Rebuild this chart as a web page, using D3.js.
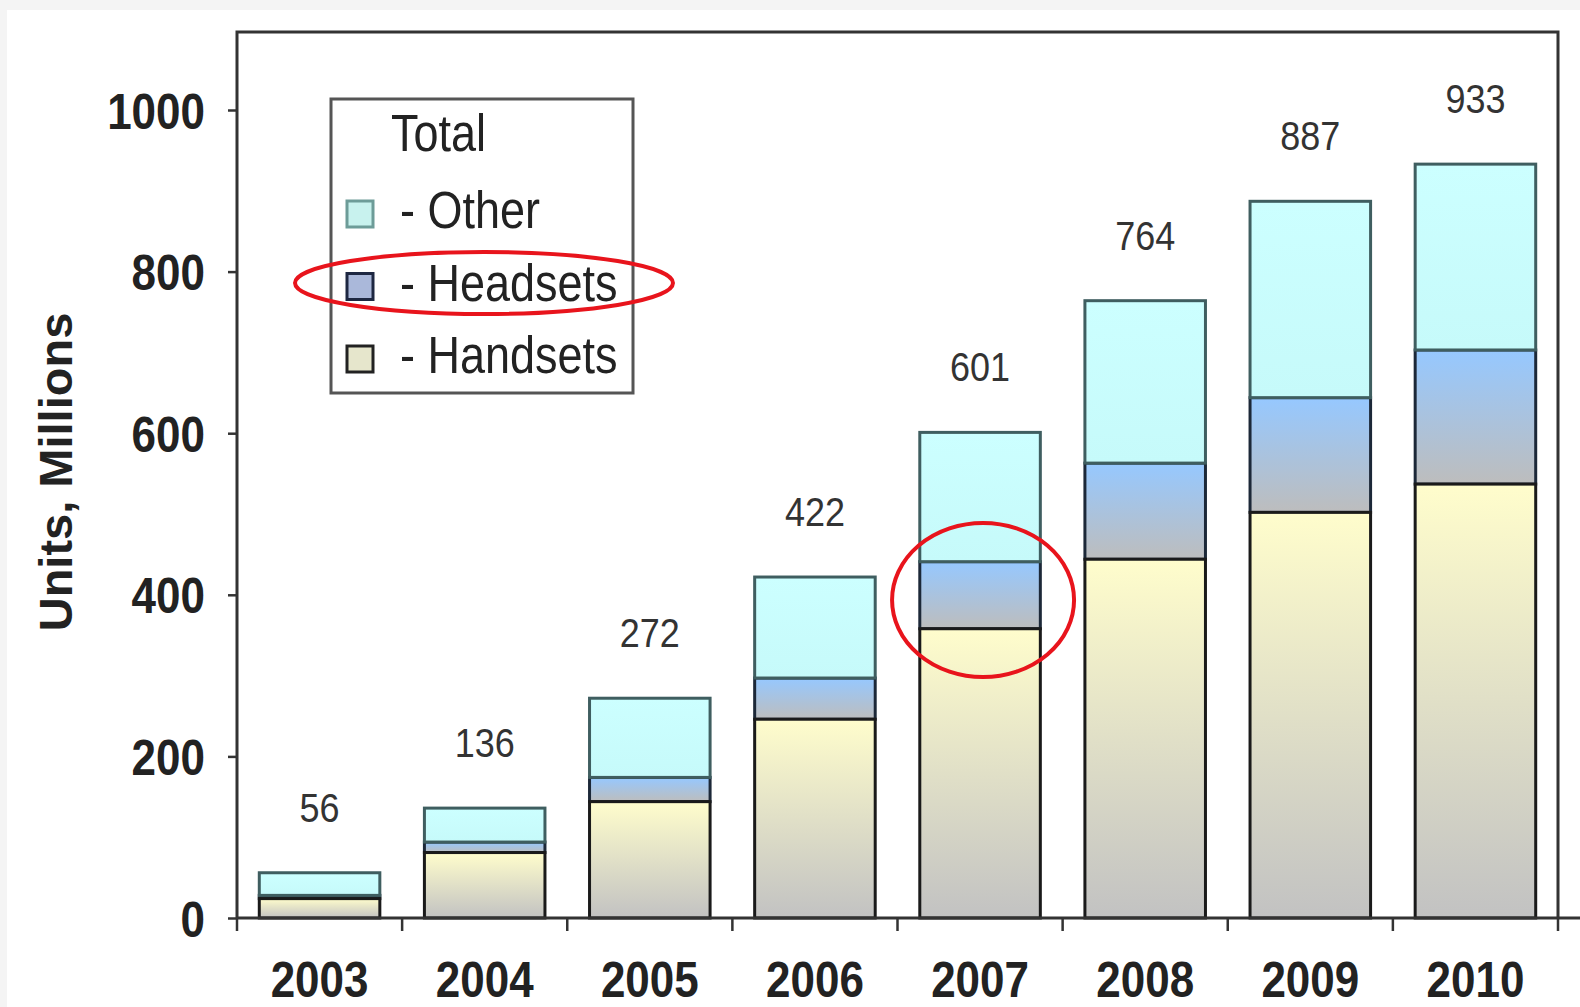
<!DOCTYPE html>
<html>
<head>
<meta charset="utf-8">
<script src="https://cdn.jsdelivr.net/npm/d3@7"></script>
<style>
  html, body { margin: 0; padding: 0; background: #f4f4f4; }
  svg { display: block; }
  text { font-family: "Liberation Sans", Arial, sans-serif; }
</style>
</head>
<body>
<svg id="chart" width="1580" height="1007"></svg>
<script>
// Shipments by year, millions of units
const years    = ["2003", "2004", "2005", "2006", "2007", "2008", "2009", "2010"];
const handsets = [24, 81, 144, 246, 358, 444, 502, 537];
const headsets = [4, 13, 30, 51, 83, 119, 142, 166];
const other    = [28, 42, 98, 125, 160, 201, 243, 230];
const yTicks   = [0, 200, 400, 600, 800, 1000];
const seriesNames = ["- Other", "- Headsets", "- Handsets"];

(function draw() {
  const svg = d3.select("#chart");
  const W = 1580, H = 1007;
  const TS = 1.15; // vertical stretch applied to horizontal text

  // page background
  svg.append("rect").attr("x", 7).attr("y", 10).attr("width", W - 7).attr("height", H - 10).attr("fill", "#ffffff");

  const plotL = 237, plotR = 1558, plotT = 32, plotB = 918;

  const x = d3.scaleBand().domain(years).range([plotL, plotR]).paddingInner(0.27).paddingOuter(0.135);
  const y = d3.scaleLinear().domain([0, 1000]).range([plotB, 110]);

  // gradients
  const defs = svg.append("defs");
  function vGrad(id, c1, c2) {
    const g = defs.append("linearGradient").attr("id", id).attr("x1", 0).attr("y1", 0).attr("x2", 0).attr("y2", 1);
    g.append("stop").attr("offset", "0%").attr("stop-color", c1);
    g.append("stop").attr("offset", "100%").attr("stop-color", c2);
  }
  vGrad("gHand", "#fffdcc", "#c2c2c2");
  vGrad("gHead", "#96c8ff", "#bdbdbd");
  vGrad("gOther", "#ccffff", "#c6fafa");

  const rows = years.map((yr, i) => ({
    year: yr,
    hand: handsets[i],
    head: headsets[i],
    oth: other[i],
    total: handsets[i] + headsets[i] + other[i]
  }));

  const bars = svg.append("g");
  // headsets segment
  bars.selectAll(".head").data(rows).join("rect").attr("class", "head")
    .attr("x", d => x(d.year)).attr("width", x.bandwidth())
    .attr("y", d => y(d.hand + d.head)).attr("height", d => y(d.hand) - y(d.hand + d.head))
    .attr("fill", "url(#gHead)").attr("stroke", "#1c2838").attr("stroke-width", 3);
  // other segment
  bars.selectAll(".oth").data(rows).join("rect").attr("class", "oth")
    .attr("x", d => x(d.year)).attr("width", x.bandwidth())
    .attr("y", d => y(d.total)).attr("height", d => y(d.hand + d.head) - y(d.total))
    .attr("fill", "url(#gOther)").attr("stroke", "#3f5e60").attr("stroke-width", 3);
  // handsets segment
  bars.selectAll(".hand").data(rows).join("rect").attr("class", "hand")
    .attr("x", d => x(d.year)).attr("width", x.bandwidth())
    .attr("y", d => y(d.hand)).attr("height", d => y(0) - y(d.hand))
    .attr("fill", "url(#gHand)").attr("stroke", "#1a1a1a").attr("stroke-width", 3);

  // total labels
  svg.append("g").selectAll("text").data(rows).join("text")
    .attr("transform", d => `translate(${x(d.year) + x.bandwidth() / 2},${y(d.total) - 66 + 15}) scale(1,${TS})`)
    .attr("text-anchor", "middle").attr("font-size", 36).attr("fill", "#333")
    .text(d => d.total);

  // frame (left, top, right)
  svg.append("path")
    .attr("d", `M${plotL},${plotB} V${plotT} H${plotR} V${plotB}`)
    .attr("fill", "none").attr("stroke", "#333").attr("stroke-width", 3);

  // y axis
  const yAxis = svg.append("g").attr("transform", `translate(${plotL},0)`)
    .call(d3.axisLeft(y).tickValues(yTicks).tickFormat(d3.format("d")).tickSize(9).tickPadding(0));
  yAxis.select(".domain").remove();
  yAxis.selectAll(".tick line").attr("stroke", "#333").attr("stroke-width", 2.5);
  yAxis.selectAll(".tick text")
    .attr("x", null).attr("dy", null).attr("y", null)
    .attr("transform", `translate(-32,18) scale(1,${TS})`)
    .attr("text-anchor", "end")
    .attr("font-size", 44).attr("font-weight", "bold").attr("fill", "#222")
    .style("font-family", "'Liberation Sans', Arial, sans-serif");

  // x axis: labels at band centres, ticks at band boundaries
  const xAxis = svg.append("g").attr("transform", `translate(0,${plotB})`)
    .call(d3.axisBottom(x).tickSize(0).tickPadding(0));
  xAxis.select(".domain").remove();
  xAxis.selectAll(".tick text")
    .attr("y", null).attr("dy", null)
    .attr("transform", `translate(0,79) scale(1,${TS})`)
    .attr("font-size", 44).attr("font-weight", "bold").attr("fill", "#222")
    .style("font-family", "'Liberation Sans', Arial, sans-serif");

  svg.append("line").attr("x1", plotL).attr("x2", W).attr("y1", plotB).attr("y2", plotB)
    .attr("stroke", "#333").attr("stroke-width", 3);
  svg.append("g").selectAll("line").data(d3.range(years.length + 1)).join("line")
    .attr("x1", i => plotL + i * x.step()).attr("x2", i => plotL + i * x.step())
    .attr("y1", plotB).attr("y2", plotB + 13)
    .attr("stroke", "#333").attr("stroke-width", 2.5);

  // y axis title
  svg.append("text")
    .attr("transform", "translate(72,472) rotate(-90)")
    .attr("text-anchor", "middle").attr("font-size", 47).attr("font-weight", "bold").attr("fill", "#222")
    .text("Units, Millions");

  // legend
  const lg = svg.append("g");
  lg.append("rect").attr("x", 331).attr("y", 99).attr("width", 302).attr("height", 294)
    .attr("fill", "#fff").attr("stroke", "#555").attr("stroke-width", 3);
  lg.append("text").attr("transform", `translate(391,151) scale(1,${TS})`)
    .attr("font-size", 45).attr("fill", "#222").text("Total");
  const swatches = [
    { fill: "#c8f2ee", stroke: "#6d9c98" },
    { fill: "#aab8da", stroke: "#1e2842" },
    { fill: "#e6e6cc", stroke: "#222" }
  ];
  seriesNames.forEach((name, i) => {
    const cy = 214 + i * 72.5;
    lg.append("rect").attr("x", 347).attr("y", cy - 13).attr("width", 26).attr("height", 26)
      .attr("fill", swatches[i].fill).attr("stroke", swatches[i].stroke).attr("stroke-width", 3);
    lg.append("text").attr("transform", `translate(400,${228 + i * 72.5}) scale(1,${TS})`)
      .attr("font-size", 45).attr("fill", "#222").text(name);
  });

  // highlight rings
  svg.append("ellipse").attr("cx", 484).attr("cy", 283).attr("rx", 189).attr("ry", 31)
    .attr("fill", "none").attr("stroke", "#e8141c").attr("stroke-width", 4);
  svg.append("ellipse").attr("cx", x("2007") + x.bandwidth() / 2 + 3).attr("cy", 600).attr("rx", 91).attr("ry", 77)
    .attr("fill", "none").attr("stroke", "#e8141c").attr("stroke-width", 4);
})();
</script>
</body>
</html>
